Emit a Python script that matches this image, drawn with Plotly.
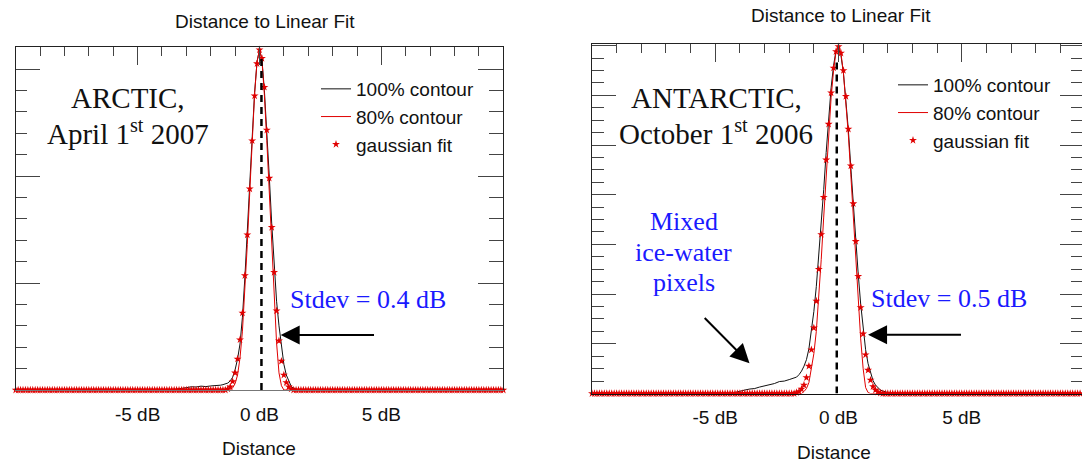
import numpy as np
import plotly.graph_objects as go

W, H = 1082, 463

# ---------------- data ----------------
# sampling grid of the gaussian fit (dB)
fit_x = np.round(np.linspace(-10, 10, 201), 1)

arctic_fit = [
    0, 0, 0, 0, 0, 0, 0, 0, 0, 0, 0, 0, 0, 0, 0, 0, 0, 0, 0, 0,
    0, 0, 0, 0, 0, 0, 0, 0, 0, 0, 0, 0, 0, 0, 0, 0, 0, 0, 0, 0,
    0, 0, 0, 0, 0, 0, 0, 0, 0, 0, 0, 0, 0, 0, 0, 0, 0, 0, 0, 0,
    0, 0, 0, 0, 0, 0, 0, 0, 0, 0, 0, 0, 0, 0, 0, 0, 0, 0, 0, 0,
    0, 0, 0, 0, 0, 0, 0,
    0.01, 0.03, 0.08, 0.16, 0.29, 0.47, 0.72, 1.07, 1.45, 1.88, 2.33, 2.75, 3.05,
    3.18,
    3.10, 2.83, 2.43, 1.98, 1.52, 1.10, 0.74, 0.46, 0.27, 0.14, 0.07, 0.03, 0.01,
    0, 0, 0, 0, 0, 0, 0,
    0, 0, 0, 0, 0, 0, 0, 0, 0, 0, 0, 0, 0, 0, 0, 0, 0, 0, 0, 0,
    0, 0, 0, 0, 0, 0, 0, 0, 0, 0, 0, 0, 0, 0, 0, 0, 0, 0, 0, 0,
    0, 0, 0, 0, 0, 0, 0, 0, 0, 0, 0, 0, 0, 0, 0, 0, 0, 0, 0, 0,
    0, 0, 0, 0, 0, 0, 0, 0, 0, 0, 0, 0, 0, 0, 0, 0, 0, 0, 0, 0,
]

antarctic_fit = [
    0, 0, 0, 0, 0, 0, 0, 0, 0, 0, 0, 0, 0, 0, 0, 0, 0, 0, 0, 0,
    0, 0, 0, 0, 0, 0, 0, 0, 0, 0, 0, 0, 0, 0, 0, 0, 0, 0, 0, 0,
    0, 0, 0, 0, 0, 0, 0, 0, 0, 0, 0, 0, 0, 0, 0, 0, 0, 0, 0, 0,
    0, 0, 0, 0, 0, 0, 0, 0, 0, 0, 0, 0, 0, 0, 0, 0, 0, 0, 0, 0,
    0, 0, 0,
    0.02, 0.04, 0.09, 0.17, 0.32, 0.55, 0.88, 1.32, 1.86, 2.50, 3.20, 3.95,
    4.70, 5.42, 6.05, 6.55, 6.88,
    6.98,
    6.85, 6.50, 5.98, 5.32, 4.58, 3.82, 3.06, 2.36, 1.73, 1.20, 0.78, 0.47,
    0.27, 0.14, 0.07, 0.03, 0.01,
    0, 0, 0,
    0, 0, 0, 0, 0, 0, 0, 0, 0, 0, 0, 0, 0, 0, 0, 0, 0, 0, 0, 0,
    0, 0, 0, 0, 0, 0, 0, 0, 0, 0, 0, 0, 0, 0, 0, 0, 0, 0, 0, 0,
    0, 0, 0, 0, 0, 0, 0, 0, 0, 0, 0, 0, 0, 0, 0, 0, 0, 0, 0, 0,
    0, 0, 0, 0, 0, 0, 0, 0, 0, 0, 0, 0, 0, 0, 0, 0, 0, 0, 0, 0,
]
assert len(arctic_fit) == 201 and len(antarctic_fit) == 201

# 100% contour histograms
arctic_c100_x = [-10, -3.6, -3.4, -3.2, -3.0, -2.8, -2.6, -2.4, -2.2, -2.0, -1.8, -1.6,
                 -1.5, -1.4, -1.3, -1.2, -1.1, -1.0, -0.9, -0.8, -0.7, -0.6, -0.5, -0.4,
                 -0.3, -0.2, -0.1, 0.0, 0.1, 0.2, 0.3, 0.4, 0.5, 0.6, 0.7, 0.8, 0.9, 1.0,
                 1.1, 1.2, 1.3, 1.4, 1.5, 1.6, 10]
arctic_c100_y = [0, 0, 0.008, 0.018, 0.022, 0.03, 0.028, 0.036, 0.032, 0.038, 0.04, 0.045,
                 0.05, 0.055, 0.065, 0.085, 0.12, 0.19, 0.29, 0.43, 0.68, 1.05, 1.45, 1.9,
                 2.36, 2.78, 3.07, 3.18, 3.09, 2.8, 2.43, 2.0, 1.56, 1.16, 0.83, 0.6, 0.4, 0.24,
                 0.14, 0.08, 0.035, 0.015, 0.005, 0, 0]

# 80% contour histograms
arctic_c80_x = [-10, -1.2, -1.1, -1.0, -0.9, -0.8, -0.7, -0.6, -0.5, -0.4, -0.3, -0.2, -0.1,
                0.0, 0.1, 0.2, 0.3, 0.4, 0.5, 0.6, 0.7, 0.8, 0.9, 1.0, 10]
arctic_c80_y = [0, 0, 0.02, 0.06, 0.14, 0.3, 0.55, 0.92, 1.36, 1.85, 2.34, 2.77, 3.07,
                3.18, 3.08, 2.76, 2.33, 1.84, 1.32, 0.84, 0.44, 0.16, 0.04, 0, 0]

antarctic_c100_x = [-10, -4.4, -4.2, -4.0, -3.8, -3.6, -3.4, -3.2, -3.0, -2.8, -2.6, -2.4,
                    -2.2, -2.0, -1.8, -1.7, -1.6, -1.5, -1.4, -1.3, -1.2, -1.1, -1.0, -0.9,
                    -0.8, -0.7, -0.6, -0.5, -0.4, -0.3, -0.2, -0.1, 0.0, 0.1, 0.2, 0.3, 0.4,
                    0.5, 0.6, 0.7, 0.8, 0.9, 1.0, 1.1, 1.2, 1.3, 1.4, 1.5, 1.6, 1.7, 1.8, 1.9,
                    2.0, 2.2, 10]
antarctic_c100_y = [0, 0, 0.02, 0.05, 0.07, 0.09, 0.1, 0.13, 0.15, 0.17, 0.2, 0.24,
                    0.25, 0.28, 0.31, 0.33, 0.38, 0.45, 0.55, 0.68, 0.9, 1.25, 1.65, 2.15,
                    2.75, 3.4, 4.1, 4.85, 5.55, 6.15, 6.6, 6.9, 6.95, 6.8, 6.45, 5.95, 5.3,
                    4.55, 3.8, 3.05, 2.4, 1.8, 1.3, 0.88, 0.6, 0.4, 0.26, 0.17, 0.11, 0.07, 0.05, 0.03,
                    0.02, 0.0, 0]

antarctic_c80_x = [-10, -1.5, -1.4, -1.3, -1.2, -1.1, -1.0, -0.9, -0.8, -0.7, -0.6, -0.5,
                   -0.4, -0.3, -0.2, -0.1, 0.0, 0.1, 0.2, 0.3, 0.4, 0.5, 0.6, 0.7, 0.8, 0.9,
                   1.0, 1.1, 1.2, 1.3, 10]
antarctic_c80_y = [0, 0, 0.04, 0.1, 0.22, 0.48, 0.8, 1.25, 1.9, 2.7, 3.55, 4.4,
                   5.25, 5.95, 6.5, 6.87, 6.98, 6.85, 6.45, 5.9, 5.2, 4.4, 3.55, 2.7, 1.85, 1.1,
                   0.5, 0.12, 0.02, 0, 0]

# mean (dashed) lines
arctic_mean_x = [0.08, 0.08]
arctic_mean_y = [0, 3.12]
antarctic_mean_x = [-0.07, -0.07]
antarctic_mean_y = [0, 6.75]

tick_vals = [-5, 0, 5]
tick_text = ["-5 dB", "0 dB", "5 dB"]

# ---------------- styles ----------------
SANS = "Liberation Sans, Arial, sans-serif"
SERIF = "Liberation Serif, Times New Roman, serif"
BLUE = "#1a1aff"
RED = "#e00000"
FRAME = "#222222"
TICK = "#444444"


def px(x):
    return x / W


def py(y):
    return 1 - y / H


fig = go.Figure()

panels = [
    dict(x="x", y="y", leg="legend",
         c100=(arctic_c100_x, arctic_c100_y), c80=(arctic_c80_x, arctic_c80_y),
         fit=arctic_fit, mean=(arctic_mean_x, arctic_mean_y)),
    dict(x="x2", y="y2", leg="legend2",
         c100=(antarctic_c100_x, antarctic_c100_y), c80=(antarctic_c80_x, antarctic_c80_y),
         fit=antarctic_fit, mean=(antarctic_mean_x, antarctic_mean_y)),
]

for p in panels:
    fig.add_trace(go.Scatter(x=p["c100"][0], y=p["c100"][1], mode="lines", name="100% contour",
                             line=dict(color="#111111", width=1), xaxis=p["x"], yaxis=p["y"],
                             legend=p["leg"], cliponaxis=False))
    fig.add_trace(go.Scatter(x=p["c80"][0], y=p["c80"][1], mode="lines", name="80% contour",
                             line=dict(color=RED, width=1), xaxis=p["x"], yaxis=p["y"],
                             legend=p["leg"], cliponaxis=False))
    fig.add_trace(go.Scatter(x=fit_x, y=p["fit"], mode="markers", name="gaussian fit",
                             marker=dict(symbol="star", size=6, color=RED,
                                         line=dict(width=0)),
                             xaxis=p["x"], yaxis=p["y"], legend=p["leg"], cliponaxis=False))
    fig.add_trace(go.Scatter(x=p["mean"][0], y=p["mean"][1], mode="lines", showlegend=False,
                             line=dict(color="black", width=2.5, dash="7px,5px"),
                             xaxis=p["x"], yaxis=p["y"]))

# empty traces to register the overlay (tick-only) axes
for xa, ya in [("x3", "y"), ("x", "y3"), ("x4", "y2"), ("x2", "y4")]:
    fig.add_trace(go.Scatter(x=[], y=[], xaxis=xa, yaxis=ya, showlegend=False))

L_X = [px(15.7), px(503.3)]
L_Y = [py(390), py(46.7)]
L_XR = [-10, 10]
L_YR = [0, (390 - 46.7) / 107.0]

R_X = [px(592), 1.0]
R_Y = [py(393.5), py(44)]
R_XR = [-10, -10 + (W - 592) / 24.65]
R_YR = [0, (393.5 - 44) / 49.7]


def bottom_axis(domain, rng, anchor, linecolor):
    return dict(domain=domain, range=rng, anchor=anchor, showline=True, linecolor=linecolor,
                linewidth=1.2, ticks="", tickmode="array", tickvals=tick_vals,
                ticktext=tick_text, tickfont=dict(family=SANS, size=19, color="#111"),
                ticklabelstandoff=7, showgrid=False, zeroline=False)


def top_axis(over, anchor, rng):
    return dict(overlaying=over, anchor=anchor, side="top", range=rng, showline=True,
                linecolor=FRAME, linewidth=1.3, ticks="inside", tickmode="linear", tick0=0,
                dtick=5, ticklen=18, tickwidth=1.3, tickcolor=TICK, showticklabels=False,
                minor=dict(ticks="inside", dtick=1, tick0=0, ticklen=9, tickwidth=1.3,
                           tickcolor=TICK, showgrid=False),
                showgrid=False, zeroline=False)


def left_axis(domain, rng, anchor, minor_dt, lens):
    return dict(domain=domain, range=rng, anchor=anchor, showline=True, linecolor=FRAME,
                linewidth=1.3, ticks="inside", tickmode="linear", tick0=0, dtick=1,
                ticklen=lens[0], tickwidth=1.3, tickcolor=TICK, showticklabels=False,
                minor=dict(ticks="inside", dtick=minor_dt, tick0=0, ticklen=lens[1],
                           tickwidth=1.3, tickcolor=TICK, showgrid=False),
                showgrid=False, zeroline=False)


def right_axis(over, anchor, rng, minor_dt, lens, showline):
    return dict(overlaying=over, anchor=anchor, side="right", range=rng, showline=showline,
                linecolor=FRAME, linewidth=1.3, ticks="inside", tickmode="linear", tick0=0,
                dtick=1, ticklen=lens[0], tickwidth=1.3, tickcolor=TICK,
                showticklabels=False,
                minor=dict(ticks="inside", dtick=minor_dt, tick0=0, ticklen=lens[1],
                           tickwidth=1.3, tickcolor=TICK, showgrid=False),
                showgrid=False, zeroline=False)


legend_common = dict(xanchor="left", yanchor="top", bgcolor="rgba(0,0,0,0)",
                     font=dict(family=SANS, size=19, color="#111"), itemwidth=30,
                     tracegroupgap=0, borderwidth=0)

annotations = []


def text(x, y, s, size, family, color="#111", anchor="center"):
    annotations.append(dict(x=px(x), y=py(y), xref="paper", yref="paper", text=s,
                            showarrow=False, xanchor=anchor, yanchor="middle",
                            font=dict(family=family, size=size, color=color)))


# titles and axis titles
text(265, 21, "Distance to Linear Fit", 19, SANS)
text(841, 16, "Distance to Linear Fit", 19, SANS)
text(259, 448, "Distance", 19, SANS)
text(834, 452, "Distance", 19, SANS)

# panel labels
text(127.5, 98, "ARCTIC,", 29, SERIF)
text(127.7, 132, "April 1<sup>st</sup> 2007", 29, SERIF)
text(716.5, 98, "ANTARCTIC,", 29, SERIF)
text(715.6, 132, "October 1<sup>st</sup> 2006", 29, SERIF)

text(368.4, 299, "Stdev = 0.4 dB", 26, SERIF, BLUE)
text(949, 298, "Stdev = 0.5 dB", 26, SERIF, BLUE)
text(683.6, 221, "Mixed", 26, SERIF, BLUE)
text(683.7, 252, "ice-water", 26, SERIF, BLUE)
text(683.6, 282, "pixels", 26, SERIF, BLUE)

# arrows (data coordinates)
arrow_style = dict(showarrow=True, arrowhead=2, arrowsize=1.9, arrowwidth=2,
                   arrowcolor="black", text=" ", standoff=0)
annotations.append(dict(x=0.87, y=0.514, xref="x", yref="y", ax=4.82, ay=0.514,
                        axref="x", ayref="y", **arrow_style))
annotations.append(dict(x=1.2, y=1.18, xref="x2", yref="y2", ax=5.09, ay=1.18,
                        axref="x2", ayref="y2", **arrow_style))
annotations.append(dict(x=-3.61, y=0.61, xref="x2", yref="y2", ax=-5.55, ay=1.58,
                        axref="x2", ayref="y2", **arrow_style))

fig.update_layout(
    width=W, height=H, margin=dict(l=0, r=0, t=0, b=0),
    paper_bgcolor="white", plot_bgcolor="white",
    xaxis=bottom_axis(L_X, L_XR, "y", "#777777"),
    yaxis=left_axis(L_Y, L_YR, "x", 0.2, (24, 11)),
    xaxis3=top_axis("x", "y", L_XR),
    yaxis3=right_axis("y", "x", L_YR, 0.2, (25, 14), True),
    xaxis2=bottom_axis(R_X, R_XR, "y2", "#111111"),
    yaxis2=left_axis(R_Y, R_YR, "x2", 0.25, (24, 12)),
    xaxis4=top_axis("x2", "y2", R_XR),
    yaxis4=right_axis("y2", "x2", R_YR, 0.25, (22, 11), False),
    legend=dict(x=px(316), y=py(70), **legend_common),
    legend2=dict(x=px(893), y=py(66), **legend_common),
    annotations=annotations,
    showlegend=True,
)

fig.write_html("out.html")
